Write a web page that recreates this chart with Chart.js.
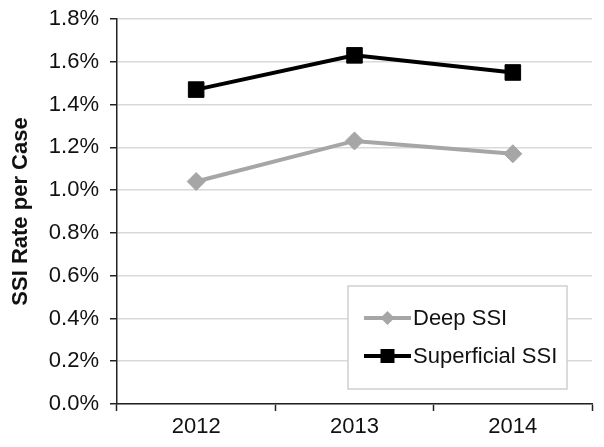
<!DOCTYPE html>
<html>
<head>
<meta charset="utf-8">
<script src="https://cdn.jsdelivr.net/npm/chart.js@4"></script>
<style>
  html, body { margin: 0; padding: 0; background: #fff; }
  #wrap { width: 604px; height: 447px; }
</style>
</head>
<body>
<div id="wrap"><canvas id="chart" width="604" height="447"></canvas></div>
<script>
// chart data
const years = ["2012", "2013", "2014"];
const deepSSI = [1.04, 1.23, 1.17];
const superficialSSI = [1.47, 1.63, 1.55];
const yTicks = [0, 0.2, 0.4, 0.6, 0.8, 1.0, 1.2, 1.4, 1.6, 1.8];

const FONT = "'Liberation Sans', Arial, Helvetica, sans-serif";

// legend drawn inside the plot, bottom right, with a light frame
const boxLegend = {
  id: "boxLegend",
  afterDraw(chart) {
    const { ctx, chartArea } = chart;
    const x = chartArea.right - 244;
    const y = chartArea.bottom - 118;
    const w = 219, h = 103;
    ctx.save();
    ctx.fillStyle = "#fff";
    ctx.fillRect(x, y, w, h);
    ctx.strokeStyle = "#cfcfcf";
    ctx.lineWidth = 1.5;
    ctx.strokeRect(x, y, w, h);
    ctx.font = "22px " + FONT;
    ctx.textBaseline = "middle";
    chart.data.datasets.forEach((ds, i) => {
      const cy = y + 32 + i * 38;
      const x0 = x + 16, x1 = x + 63, cx = (x0 + x1) / 2;
      ctx.strokeStyle = ds.borderColor;
      ctx.lineWidth = ds.borderWidth;
      ctx.beginPath();
      ctx.moveTo(x0, cy);
      ctx.lineTo(x1, cy);
      ctx.stroke();
      ctx.fillStyle = ds.pointBackgroundColor;
      ctx.beginPath();
      if (ds.pointStyle === "rect") {
        ctx.rect(cx - 7, cy - 7, 14, 14);
      } else {
        ctx.moveTo(cx, cy - 7);
        ctx.lineTo(cx + 7, cy);
        ctx.lineTo(cx, cy + 7);
        ctx.lineTo(cx - 7, cy);
        ctx.closePath();
      }
      ctx.fill();
      ctx.fillStyle = "#111";
      ctx.fillText(ds.label, x1 + 2, cy + 1);
    });
    ctx.restore();
  }
};

new Chart(document.getElementById("chart"), {
  type: "line",
  data: {
    labels: years,
    datasets: [
      {
        label: "Deep SSI",
        data: deepSSI,
        borderColor: "#a6a6a6",
        backgroundColor: "#a6a6a6",
        pointBackgroundColor: "#a6a6a6",
        pointBorderColor: "#a6a6a6",
        borderWidth: 4,
        pointStyle: "rectRot",
        pointRadius: 9,
        pointBorderWidth: 1,
        tension: 0
      },
      {
        label: "Superficial SSI",
        data: superficialSSI,
        borderColor: "#000",
        backgroundColor: "#000",
        pointBackgroundColor: "#000",
        pointBorderColor: "#000",
        borderWidth: 4,
        pointStyle: "rect",
        pointRadius: 11,
        pointBorderWidth: 1,
        tension: 0
      }
    ]
  },
  options: {
    responsive: false,
    animation: false,
    layout: { padding: { top: 19, right: 11, left: 0, bottom: 0 } },
    plugins: {
      legend: { display: false },
      tooltip: { enabled: false }
    },
    scales: {
      x: {
        offset: true,
        grid: {
          offset: true,
          drawOnChartArea: false,
          drawTicks: true,
          tickLength: 7,
          tickColor: "#222",
          tickWidth: 1.5
        },
        border: { color: "#222", width: 1.5 },
        ticks: {
          color: "#111",
          font: { family: FONT, size: 22 },
          padding: 3
        },
        afterFit(scale) { scale.height = 43; }
      },
      y: {
        min: 0,
        max: 1.8,
        afterBuildTicks(scale) {
          scale.ticks = yTicks.map(v => ({ value: v }));
        },
        grid: {
          color: "#d9d9d9",
          lineWidth: 1.5,
          drawTicks: true,
          tickLength: 7,
          tickColor: "#222",
          tickWidth: 1.5
        },
        border: { color: "#222", width: 1.5 },
        ticks: {
          color: "#111",
          font: { family: FONT, size: 22 },
          padding: 11,
          callback: v => v.toFixed(1) + "%"
        },
        title: {
          display: true,
          text: "SSI Rate per Case",
          color: "#111",
          font: { family: FONT, size: 22, weight: "bold" },
          padding: { top: 8, bottom: 0 }
        },
        afterFit(scale) {
          scale.width = 117;
          scale.paddingTop = 0;
          scale.paddingBottom = 0;
        }
      }
    }
  },
  plugins: [boxLegend]
});
</script>
</body>
</html>
